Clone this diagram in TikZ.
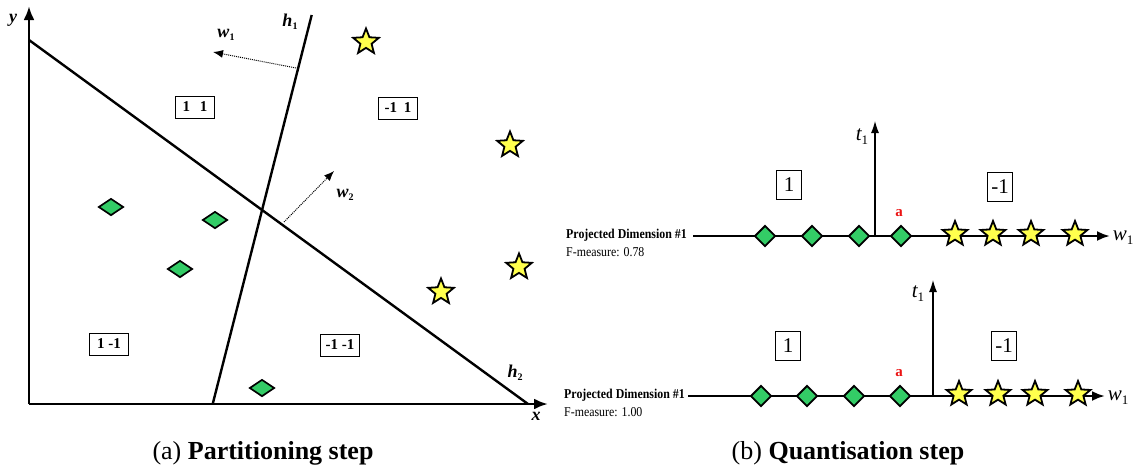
\documentclass[tikz,border=0pt]{standalone}
\usepackage{fontspec}
\setmainfont{Liberation Serif}
\newfontfamily\narrowserif[FakeStretch=0.88]{Liberation Serif}
\usetikzlibrary{shapes.geometric,arrows.meta}
\definecolor{ptgreen}{RGB}{51,204,102}
\definecolor{ptyellow}{RGB}{255,255,77}
\definecolor{markred}{RGB}{235,20,20}
\newcommand\setfs[1]{\fontsize{#1}{#1}\selectfont}
% bold italic letter with a bold subscript (panel a)
\newcommand\bisub[2]{{\bfseries\itshape #1}\raisebox{-3pt}{\setfs{10}\bfseries #2}}
% italic letter with an upright subscript (panel b)
\newcommand\isub[2]{{\itshape #1}\raisebox{-4pt}{\setfs{13}#2}}

\begin{document}
\begin{tikzpicture}[x=1pt,y=-1pt,
  gem/.style={diamond, draw=black, line width=1.7pt, fill=ptgreen,
    inner sep=0pt, minimum width=25pt, minimum height=17pt},
  gemb/.style={gem, line width=1.9pt, minimum width=21pt, minimum height=21pt},
  starpt/.style={star, star points=5, star point ratio=2.3, draw=black,
    line width=1.8pt, fill=ptyellow, inner sep=0pt, minimum size=27pt},
  starb/.style={starpt, minimum size=26pt},
  regbox/.style={draw, line width=0.9pt, inner sep=0pt, minimum width=39pt,
    minimum height=22pt, font=\setfs{15}\bfseries},
  valbox/.style={draw, line width=0.9pt, inner sep=0pt, minimum width=25pt,
    minimum height=29pt, font=\setfs{21}},
  axis/.style={line width=2.8pt, -{Latex[length=14pt,width=11pt]}},
  hline/.style={line width=2.4pt},
  normal/.style={line width=1pt, densely dotted, -{Latex[length=10pt,width=8pt]}},
  thinaxis/.style={line width=1.1pt, -{Latex[length=12pt,width=8pt]}},
  lbla/.style={font=\setfs{18}, inner sep=0pt},
  lblb/.style={font=\setfs{21}, inner sep=0pt},
  side/.style={font=\narrowserif\setfs{13.5}, inner sep=0pt, anchor=west},
]
\useasboundingbox (0,0) rectangle (1137,472);

%% ---------- (a) partitioning step ----------
\coordinate (O) at (29,404);
\coordinate (ytip) at (29,6);
\coordinate (xtip) at (548,404);
\draw[axis] (O) -- (ytip);
\draw[axis] (O) -- (xtip);
\node[lbla] (ylab) at (13,20) {\bfseries\itshape y};
\node[lbla] (xlab) at (536,416) {\bfseries\itshape x};

% separating hyperplanes
\coordinate (h1top) at (311.7,15);
\coordinate (h1bot) at (212.7,404);
\coordinate (h2top) at (29,40);
\coordinate (h2bot) at (528,404);
\draw[hline] (h1top) -- (h1bot);
\draw[hline] (h2top) -- (h2bot);
\node[lbla] (h1lab) at (290,22) {\bisub{h}{1}};
\node[lbla] (h2lab) at (515,373) {\bisub{h}{2}};

% normal vectors
\coordinate (w1foot) at (296,68);
\coordinate (w1tip) at (213,52);
\coordinate (w2foot) at (284,222);
\coordinate (w2tip) at (334,171);
\draw[normal] (w1foot) -- (w1tip);
\draw[normal] (w2foot) -- (w2tip);
\node[lbla] (w1lab) at (226,35) {\bisub{w}{1}};
\node[lbla] (w2lab) at (345,195) {\bisub{w}{2}};

% region codes
\node[regbox] (r11) at (195,107) {1\hspace{10pt}1};
\node[regbox] (rm11) at (398,108) {-1\hspace{7pt}1};
\node[regbox] (r1m1) at (109,344) {1 -1};
\node[regbox] (rm1m1) at (340,345) {-1 -1};

% samples
\node[gem] (da1) at (111,207) {};
\node[gem] (da2) at (215,220) {};
\node[gem] (da3) at (180,269) {};
\node[gem] (da4) at (262,388) {};
\node[starpt] (sa1) at (366,42) {};
\node[starpt] (sa2) at (510,145) {};
\node[starpt] (sa3) at (519,267) {};
\node[starpt] (sa4) at (441,292) {};

\node[font=\setfs{26}, inner sep=0pt] (capa) at (263,453) {(a) \textbf{Partitioning step}};

%% ---------- (b) quantisation step ----------
% first projection
\node[side, font=\narrowserif\setfs{13.5}\bfseries] (pdA) at (566,235) {Projected Dimension \#1};
\node[side] (fmA) at (566,252) {F-measure: 0.78};
\coordinate (lA) at (693,236);
\coordinate (rA) at (1110,236);
\coordinate (tA) at (875,236);
\coordinate (ttA) at (875,121);
\draw[axis, line width=2.5pt, -{Latex[length=13pt,width=10pt]}] (lA) -- (rA);
\draw[thinaxis] (tA) -- (ttA);
\node[lblb] (tlabA) at (862,137) {\isub{t}{1}};
\node[lblb] (wlabA) at (1123,238) {\isub{w}{1}};
\node[valbox] (vA1) at (789,185) {1};
\node[valbox] (vA2) at (1000,187) {-1};
\node[font=\setfs{15}\bfseries, text=markred, inner sep=0pt] (aA) at (899,213) {a};
\node[gemb] (dA1) at (765,236) {};
\node[gemb] (dA2) at (812,236) {};
\node[gemb] (dA3) at (859,236) {};
\node[gemb] (dA4) at (901,236) {};
\node[starb] (sA1) at (955,234) {};
\node[starb] (sA2) at (993,234) {};
\node[starb] (sA3) at (1031,234) {};
\node[starb] (sA4) at (1075,234) {};

% second projection
\node[side, font=\narrowserif\setfs{13.5}\bfseries] (pdB) at (564,395) {Projected Dimension \#1};
\node[side] (fmB) at (564,412) {F-measure: 1.00};
\coordinate (lB) at (688,396);
\coordinate (rB) at (1105,396);
\coordinate (tB) at (933,396);
\coordinate (ttB) at (933,280);
\draw[axis, line width=2.5pt, -{Latex[length=13pt,width=10pt]}] (lB) -- (rB);
\draw[thinaxis] (tB) -- (ttB);
\node[lblb] (tlabB) at (918,294) {\isub{t}{1}};
\node[lblb] (wlabB) at (1118,398) {\isub{w}{1}};
\node[valbox] (vB1) at (788,346) {1};
\node[valbox] (vB2) at (1004,346) {-1};
\node[font=\setfs{15}\bfseries, text=markred, inner sep=0pt] (aB) at (899,373) {a};
\node[gemb] (dB1) at (761,396) {};
\node[gemb] (dB2) at (807,396) {};
\node[gemb] (dB3) at (854,396) {};
\node[gemb] (dB4) at (900,396) {};
\node[starb] (sB1) at (959,394) {};
\node[starb] (sB2) at (998,394) {};
\node[starb] (sB3) at (1035,394) {};
\node[starb] (sB4) at (1078,394) {};

\node[font=\setfs{26}, inner sep=0pt] (capb) at (848,453) {(b) \textbf{Quantisation step}};
\end{tikzpicture}
\end{document}
